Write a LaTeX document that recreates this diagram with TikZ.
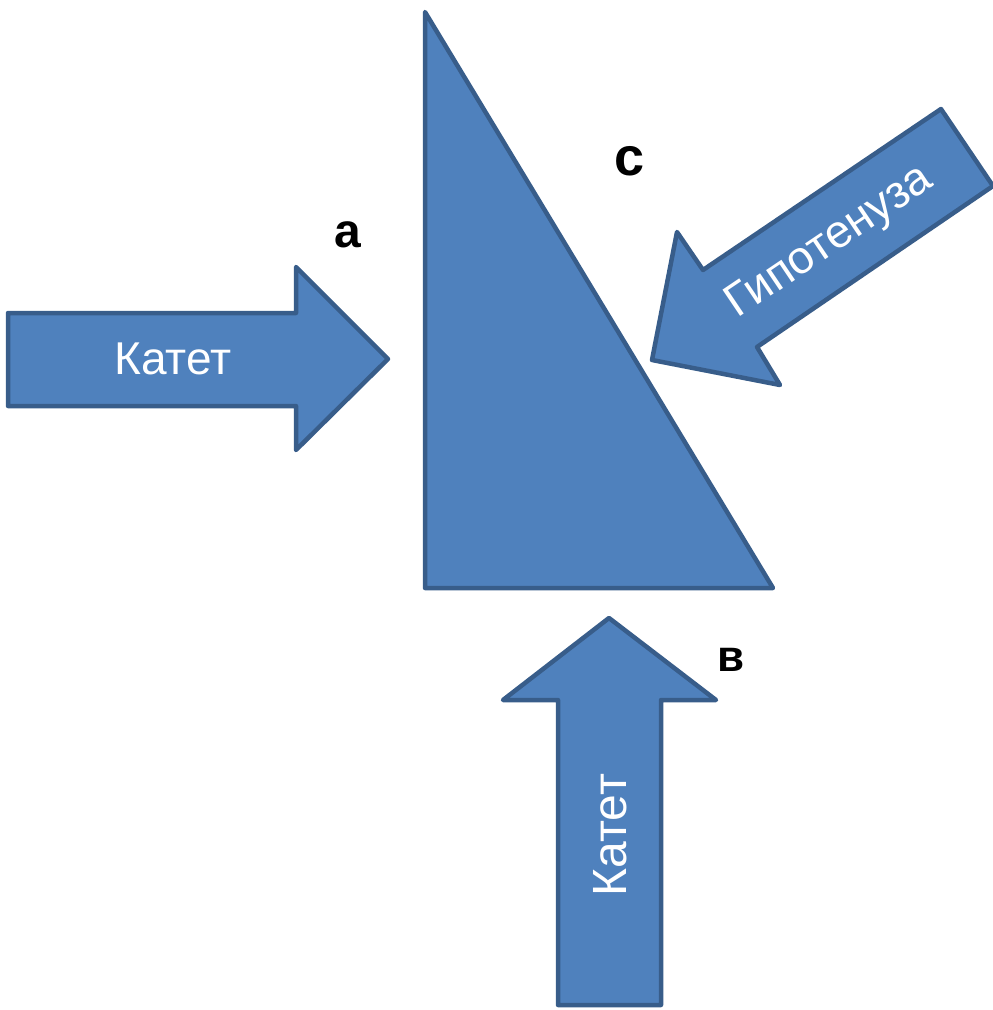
\documentclass[tikz,border=0pt]{standalone}
\usepackage{fontspec}
\setmainfont{Liberation Sans}
\definecolor{azul}{HTML}{4F81BD}
\definecolor{azulescuro}{HTML}{385D8A}
\begin{document}
\begin{tikzpicture}[x=1pt, y=-1pt,
  forma/.style={fill=azul, draw=azulescuro, line width=4.5pt, line join=round},
  rotulo/.style={text=white, inner sep=0pt, font=\fontsize{46}{50}\selectfont},
  letra/.style={inner sep=0pt}
]
\useasboundingbox (0,0) rectangle (993,1010);
% triangulo
\draw[forma] (425,12) -- (425,588) -- (773,588) -- cycle;
% setas (catetos e hipotenusa)
\draw[forma] (8,313) -- (296,313) -- (296,267) -- (388,359) -- (296,450) -- (296,406) -- (8,406) -- cycle;
\draw[forma] (558,1005) -- (558,700) -- (503,700) -- (609,618) -- (716,700) -- (661,700) -- (661,1005) -- cycle;
\draw[forma] (941,109) -- (993,186) -- (757,347) -- (780,385) -- (652,360) -- (677,232) -- (703,270) -- cycle;
\node[rotulo] (catetoA) at (173,359) {Катет};
\node[rotulo, rotate=90, font=\fontsize{48}{52}\selectfont] (catetoB) at (610,835) {Катет};
\node[rotulo, rotate=34] (hipotenusa) at (830,243) {Гипотенуза};
% letras
\node[letra, font=\fontsize{48}{52}\selectfont\bfseries] (a) at (348,235) {a};
\node[letra, font=\fontsize{54}{58}\selectfont\bfseries] (c) at (630,161) {c};
\node[letra, font=\fontsize{44}{48}\selectfont\bfseries] (b) at (731,660) {в};
\end{tikzpicture}
\end{document}
